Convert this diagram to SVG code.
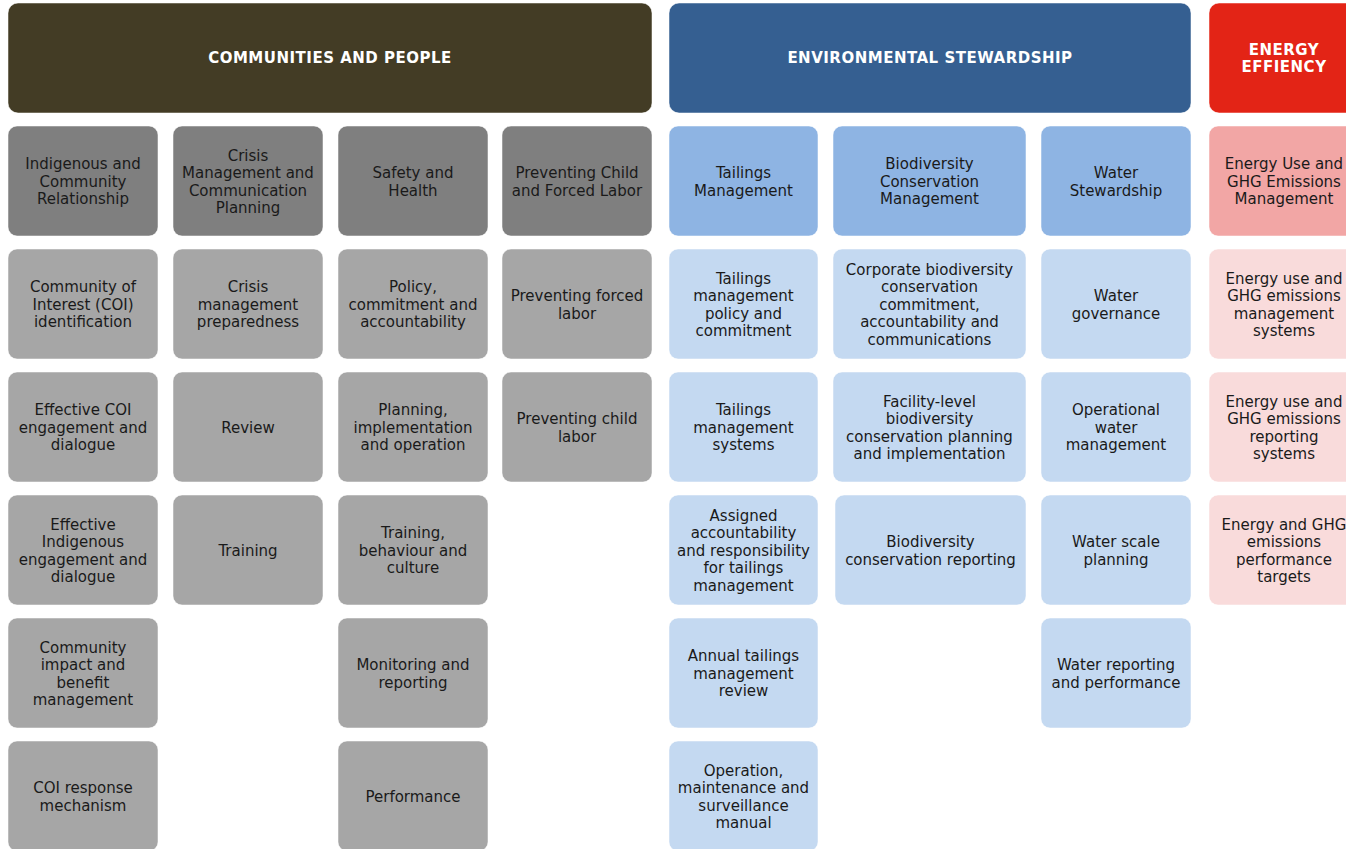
<svg xmlns="http://www.w3.org/2000/svg" width="1346" height="849" viewBox="0 0 1346 849">
<style>
rect{stroke:#ffffff;stroke-opacity:0.5;stroke-width:1}
text{font-family:"DejaVu Sans",Verdana,sans-serif;font-size:15px;fill:#1a1a1a;text-anchor:middle}
.h text{font-weight:bold;fill:#ffffff;letter-spacing:0.5px}
.g1{fill:#7f7f7f}.g2{fill:#a6a6a6}
.b1{fill:#8eb4e3}.b2{fill:#c4d9f1}
.p1{fill:#f2a6a5}.p2{fill:#f9dbdb}
</style>
<rect x="0" y="0" width="1346" height="849" fill="#ffffff" stroke="none"/>
<g id="headers" class="h">
<g id="h-communities"><rect x="8" y="3" width="644" height="110" rx="10" fill="#433c25"/><text x="330" y="63.4">COMMUNITIES AND PEOPLE</text></g>
<g id="h-environment"><rect x="669" y="3" width="522" height="110" rx="10" fill="#355f91"/><text x="930" y="63.4">ENVIRONMENTAL STEWARDSHIP</text></g>
<g id="h-energy"><rect x="1209" y="3" width="150" height="110" rx="10" fill="#e32416"/><text x="1284" y="55.4">ENERGY</text><text x="1284" y="72.4">EFFIENCY</text></g>
</g>
<g id="connectors"/>
<g transform="translate(0,0.5)">
<!-- Column 1 -->
<g id="n-indigenous"><rect class="g1" x="8" y="125.5" width="150" height="110" rx="9"/><text><tspan x="83" y="168.9">Indigenous and</tspan><tspan x="83" y="186.4">Community</tspan><tspan x="83" y="203.9">Relationship</tspan></text></g>
<g id="n-coi-id"><rect class="g2" x="8" y="248.5" width="150" height="110" rx="9"/><text><tspan x="83" y="291.9">Community of</tspan><tspan x="83" y="309.4">Interest (COI)</tspan><tspan x="83" y="326.9">identification</tspan></text></g>
<g id="n-coi-engage"><rect class="g2" x="8" y="371.5" width="150" height="110" rx="9"/><text><tspan x="83" y="414.9">Effective COI</tspan><tspan x="83" y="432.4">engagement and</tspan><tspan x="83" y="449.9">dialogue</tspan></text></g>
<g id="n-ind-engage"><rect class="g2" x="8" y="494.5" width="150" height="110" rx="9"/><text><tspan x="83" y="529.15">Effective</tspan><tspan x="83" y="546.65">Indigenous</tspan><tspan x="83" y="564.15">engagement and</tspan><tspan x="83" y="581.65">dialogue</tspan></text></g>
<g id="n-impact"><rect class="g2" x="8" y="617.5" width="150" height="110" rx="9"/><text><tspan x="83" y="652.15">Community</tspan><tspan x="83" y="669.65">impact and</tspan><tspan x="83" y="687.15">benefit</tspan><tspan x="83" y="704.65">management</tspan></text></g>
<g id="n-coi-response"><rect class="g2" x="8" y="740.5" width="150" height="110" rx="9"/><text><tspan x="83" y="792.65">COI response</tspan><tspan x="83" y="810.15">mechanism</tspan></text></g>
<!-- Column 2 -->
<g id="n-crisis"><rect class="g1" x="173" y="125.5" width="150" height="110" rx="9"/><text><tspan x="248" y="160.15">Crisis</tspan><tspan x="248" y="177.65">Management and</tspan><tspan x="248" y="195.15">Communication</tspan><tspan x="248" y="212.65">Planning</tspan></text></g>
<g id="n-crisis-prep"><rect class="g2" x="173" y="248.5" width="150" height="110" rx="9"/><text><tspan x="248" y="291.9">Crisis</tspan><tspan x="248" y="309.4">management</tspan><tspan x="248" y="326.9">preparedness</tspan></text></g>
<g id="n-review"><rect class="g2" x="173" y="371.5" width="150" height="110" rx="9"/><text><tspan x="248" y="432.4">Review</tspan></text></g>
<g id="n-training"><rect class="g2" x="173" y="494.5" width="150" height="110" rx="9"/><text><tspan x="248" y="555.4">Training</tspan></text></g>
<!-- Column 3 -->
<g id="n-safety"><rect class="g1" x="338" y="125.5" width="150" height="110" rx="9"/><text><tspan x="413" y="177.65">Safety and</tspan><tspan x="413" y="195.15">Health</tspan></text></g>
<g id="n-policy"><rect class="g2" x="338" y="248.5" width="150" height="110" rx="9"/><text><tspan x="413" y="291.9">Policy,</tspan><tspan x="413" y="309.4">commitment and</tspan><tspan x="413" y="326.9">accountability</tspan></text></g>
<g id="n-planning"><rect class="g2" x="338" y="371.5" width="150" height="110" rx="9"/><text><tspan x="413" y="414.9">Planning,</tspan><tspan x="413" y="432.4">implementation</tspan><tspan x="413" y="449.9">and operation</tspan></text></g>
<g id="n-training-beh"><rect class="g2" x="338" y="494.5" width="150" height="110" rx="9"/><text><tspan x="413" y="537.9">Training,</tspan><tspan x="413" y="555.4">behaviour and</tspan><tspan x="413" y="572.9">culture</tspan></text></g>
<g id="n-monitoring"><rect class="g2" x="338" y="617.5" width="150" height="110" rx="9"/><text><tspan x="413" y="669.65">Monitoring and</tspan><tspan x="413" y="687.15">reporting</tspan></text></g>
<g id="n-performance"><rect class="g2" x="338" y="740.5" width="150" height="110" rx="9"/><text><tspan x="413" y="801.4">Performance</tspan></text></g>
<!-- Column 4 -->
<g id="n-child-forced"><rect class="g1" x="502" y="125.5" width="150" height="110" rx="9"/><text><tspan x="577" y="177.65">Preventing Child</tspan><tspan x="577" y="195.15">and Forced Labor</tspan></text></g>
<g id="n-forced"><rect class="g2" x="502" y="248.5" width="150" height="110" rx="9"/><text><tspan x="577" y="300.65">Preventing forced</tspan><tspan x="577" y="318.15">labor</tspan></text></g>
<g id="n-child"><rect class="g2" x="502" y="371.5" width="150" height="110" rx="9"/><text><tspan x="577" y="423.65">Preventing child</tspan><tspan x="577" y="441.15">labor</tspan></text></g>
<!-- Column 5 -->
<g id="n-tailings"><rect class="b1" x="669" y="125.5" width="149" height="110" rx="9"/><text><tspan x="743.5" y="177.65">Tailings</tspan><tspan x="743.5" y="195.15">Management</tspan></text></g>
<g id="n-tail-policy"><rect class="b2" x="669" y="248.5" width="149" height="110" rx="9"/><text><tspan x="743.5" y="283.15">Tailings</tspan><tspan x="743.5" y="300.65">management</tspan><tspan x="743.5" y="318.15">policy and</tspan><tspan x="743.5" y="335.65">commitment</tspan></text></g>
<g id="n-tail-systems"><rect class="b2" x="669" y="371.5" width="149" height="110" rx="9"/><text><tspan x="743.5" y="414.9">Tailings</tspan><tspan x="743.5" y="432.4">management</tspan><tspan x="743.5" y="449.9">systems</tspan></text></g>
<g id="n-tail-assigned"><rect class="b2" x="669" y="494.5" width="149" height="110" rx="9"/><text><tspan x="743.5" y="520.4">Assigned</tspan><tspan x="743.5" y="537.9">accountability</tspan><tspan x="743.5" y="555.4">and responsibility</tspan><tspan x="743.5" y="572.9">for tailings</tspan><tspan x="743.5" y="590.4">management</tspan></text></g>
<g id="n-tail-annual"><rect class="b2" x="669" y="617.5" width="149" height="110" rx="9"/><text><tspan x="743.5" y="660.9">Annual tailings</tspan><tspan x="743.5" y="678.4">management</tspan><tspan x="743.5" y="695.9">review</tspan></text></g>
<g id="n-tail-oms"><rect class="b2" x="669" y="740.5" width="149" height="110" rx="9"/><text><tspan x="743.5" y="775.15">Operation,</tspan><tspan x="743.5" y="792.65">maintenance and</tspan><tspan x="743.5" y="810.15">surveillance</tspan><tspan x="743.5" y="827.65">manual</tspan></text></g>
<!-- Column 6 -->
<g id="n-biodiv"><rect class="b1" x="833" y="125.5" width="193" height="110" rx="9"/><text><tspan x="929.5" y="168.9">Biodiversity</tspan><tspan x="929.5" y="186.4">Conservation</tspan><tspan x="929.5" y="203.9">Management</tspan></text></g>
<g id="n-biodiv-corp"><rect class="b2" x="833" y="248.5" width="193" height="110" rx="9"/><text><tspan x="929.5" y="274.4">Corporate biodiversity</tspan><tspan x="929.5" y="291.9">conservation</tspan><tspan x="929.5" y="309.4">commitment,</tspan><tspan x="929.5" y="326.9">accountability and</tspan><tspan x="929.5" y="344.4">communications</tspan></text></g>
<g id="n-biodiv-facility"><rect class="b2" x="833" y="371.5" width="193" height="110" rx="9"/><text><tspan x="929.5" y="406.15">Facility-level</tspan><tspan x="929.5" y="423.65">biodiversity</tspan><tspan x="929.5" y="441.15">conservation planning</tspan><tspan x="929.5" y="458.65">and implementation</tspan></text></g>
<g id="n-biodiv-report"><rect class="b2" x="835" y="494.5" width="191" height="110" rx="9"/><text><tspan x="930.5" y="546.65">Biodiversity</tspan><tspan x="930.5" y="564.15">conservation reporting</tspan></text></g>
<!-- Column 7 -->
<g id="n-water"><rect class="b1" x="1041" y="125.5" width="150" height="110" rx="9"/><text><tspan x="1116" y="177.65">Water</tspan><tspan x="1116" y="195.15">Stewardship</tspan></text></g>
<g id="n-water-gov"><rect class="b2" x="1041" y="248.5" width="150" height="110" rx="9"/><text><tspan x="1116" y="300.65">Water</tspan><tspan x="1116" y="318.15">governance</tspan></text></g>
<g id="n-water-op"><rect class="b2" x="1041" y="371.5" width="150" height="110" rx="9"/><text><tspan x="1116" y="414.9">Operational</tspan><tspan x="1116" y="432.4">water</tspan><tspan x="1116" y="449.9">management</tspan></text></g>
<g id="n-water-scale"><rect class="b2" x="1041" y="494.5" width="150" height="110" rx="9"/><text><tspan x="1116" y="546.65">Water scale</tspan><tspan x="1116" y="564.15">planning</tspan></text></g>
<g id="n-water-report"><rect class="b2" x="1041" y="617.5" width="150" height="110" rx="9"/><text><tspan x="1116" y="669.65">Water reporting</tspan><tspan x="1116" y="687.15">and performance</tspan></text></g>
<!-- Column 8 -->
<g id="n-energy"><rect class="p1" x="1209" y="125.5" width="150" height="110" rx="9"/><text><tspan x="1284" y="168.9">Energy Use and</tspan><tspan x="1284" y="186.4">GHG Emissions</tspan><tspan x="1284" y="203.9">Management</tspan></text></g>
<g id="n-energy-mgmt"><rect class="p2" x="1209" y="248.5" width="150" height="110" rx="9"/><text><tspan x="1284" y="283.15">Energy use and</tspan><tspan x="1284" y="300.65">GHG emissions</tspan><tspan x="1284" y="318.15">management</tspan><tspan x="1284" y="335.65">systems</tspan></text></g>
<g id="n-energy-report"><rect class="p2" x="1209" y="371.5" width="150" height="110" rx="9"/><text><tspan x="1284" y="406.15">Energy use and</tspan><tspan x="1284" y="423.65">GHG emissions</tspan><tspan x="1284" y="441.15">reporting</tspan><tspan x="1284" y="458.65">systems</tspan></text></g>
<g id="n-energy-targets"><rect class="p2" x="1209" y="494.5" width="150" height="110" rx="9"/><text><tspan x="1284" y="529.15">Energy and GHG</tspan><tspan x="1284" y="546.65">emissions</tspan><tspan x="1284" y="564.15">performance</tspan><tspan x="1284" y="581.65">targets</tspan></text></g>
</g>
</svg>
